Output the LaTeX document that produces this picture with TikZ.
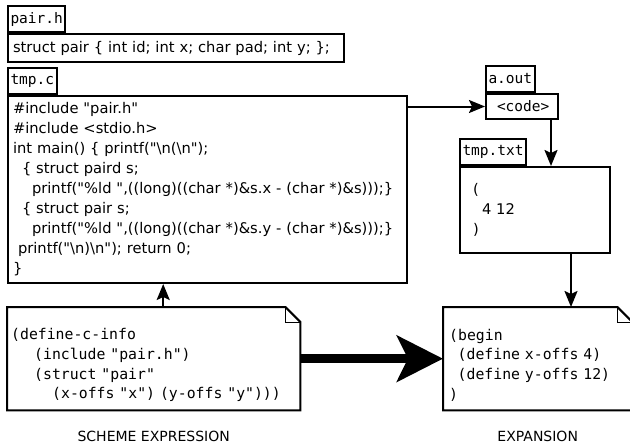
\documentclass[tikz,border=0pt]{standalone}
\usepackage{fontspec}
\setmainfont{DejaVu Sans}
\newfontfamily\codesans{DejaVu Sans}
\setmonofont{DejaVu Sans Mono}
\usetikzlibrary{positioning,arrows.meta}
\newcommand{\ttspaces}{\fontdimen2\font=0.602em\relax}
\tikzset{
  filetab/.style={draw, line width=2pt, anchor=south west, inner xsep=2.5pt,
    inner ysep=0pt, minimum height=26pt, font=\ttfamily\fontsize{14.5}{16}\selectfont
  },
  filebody/.style={draw, line width=2pt, anchor=north west, inner xsep=5pt,
    align=left, font=\codesans\fontsize{14.7}{20}\selectfont
  },
  docnode/.style={anchor=north west, minimum height=103pt,
    align=left, font={\ttfamily\fontsize{14.8}{19.7}\selectfont\ttspaces}
  },
  arr/.style={-{Stealth[length=16pt,width=13pt,inset=3pt]}, line width=2pt},
  bigarr/.style={-{Stealth[length=46pt,width=46pt,inset=11pt]}, line width=9pt},
  caption/.style={font=\fontsize{14}{16}\selectfont}
}

\begin{document}
\begin{tikzpicture}[x=1pt, y=-1pt]
 \clip (0,0) rectangle (630,447);

 % files
 \node[filetab] (pairhtab) at (7,33) {pair.h};
 \node[filebody, minimum width=336pt, minimum height=28pt, text width=326pt] (pairh) at (7,33)
   {struct pair \{ int id; int x; char pad; int y; \};};
 \node[filetab] (tmpctab) at (7,95) {tmp.c};
 \node[filebody, minimum width=399pt, minimum height=187pt, text width=389pt] (tmpc) at (7,95)
   {\#include "pair.h"\\
    \#include <stdio.h>\\
    int main() \{ printf("\textbackslash n(\textbackslash n");\\
    \hspace*{9pt}\{ struct paird s;\\
    \hspace*{19pt}printf("\%ld ",((long)((char *)\&s.x - (char *)\&s)));\}\\
    \hspace*{9pt}\{ struct pair s;\\
    \hspace*{19pt}printf("\%ld ",((long)((char *)\&s.y - (char *)\&s)));\}\\
    \hspace*{5pt}printf("\textbackslash n)\textbackslash n"); return 0;\\
    \}};
 \node[filetab] (aouttab) at (485,93) {a.out};
 \node[filebody, font=\ttfamily\fontsize{14.5}{16}\selectfont, minimum width=72pt,
   minimum height=25pt, text width=62pt] (aout) at (485,93) {\hspace*{6pt}<code>};
 \node[filetab] (tmptxttab) at (459,166) {tmp.txt};
 \node[filebody, minimum width=150pt, minimum height=86pt, text width=140pt] (tmptxt) at (459,166)
   {\hspace*{8pt}(\\\hspace*{17pt}4 12\\\hspace*{8pt})};

 % scheme side
 \node[docnode, inner xsep=4pt, minimum width=293pt, text width=285pt] (scheme) at (7,307)
   {\rule{0pt}{24pt}(define-c-info\\
    \hspace*{23pt}(include "pair.h")\\
    \hspace*{23pt}(struct "pair"\\
    \hspace*{41pt}(x-offs "x") (y-offs "y")))};
 \node[docnode, inner xsep=6pt, minimum width=189pt, text width=177pt] (expand) at (443,307)
   {\rule{0pt}{24pt}(begin\\
    \hspace*{8.5pt}(define x-offs 4)\\
    \hspace*{8.5pt}(define y-offs 12)\\
    )};
 \foreach \d in {scheme, expand} {
   \draw[line width=2pt] (\d.north west) -- ([xshift=-15pt]\d.north east)
     -- ([yshift=-15pt]\d.north east) -- (\d.south east) -- (\d.south west) -- cycle;
   \draw[line width=1pt] ([xshift=-15pt]\d.north east) |- ([yshift=-15pt]\d.north east);
 }
 \node[caption, below=17pt of scheme] (schemelbl) {SCHEME EXPRESSION};
 \node[caption, below=17pt of expand] (expandlbl) {EXPANSION};

 % arrows
 \draw[arr] (aout.west -| tmpc.east) -- (aout.west);
 \draw[arr] ([xshift=29pt]aout.south) coordinate (p) -- (p |- tmptxt.north);
 \draw[arr] ([xshift=36pt]tmptxt.south) coordinate (q) -- (q |- expand.north);
 \draw[arr] ([xshift=9.5pt]scheme.north) coordinate (r) -- (r |- tmpc.south);
 \draw[bigarr] (scheme.east) -- (expand.west);
\end{tikzpicture}
\end{document}
